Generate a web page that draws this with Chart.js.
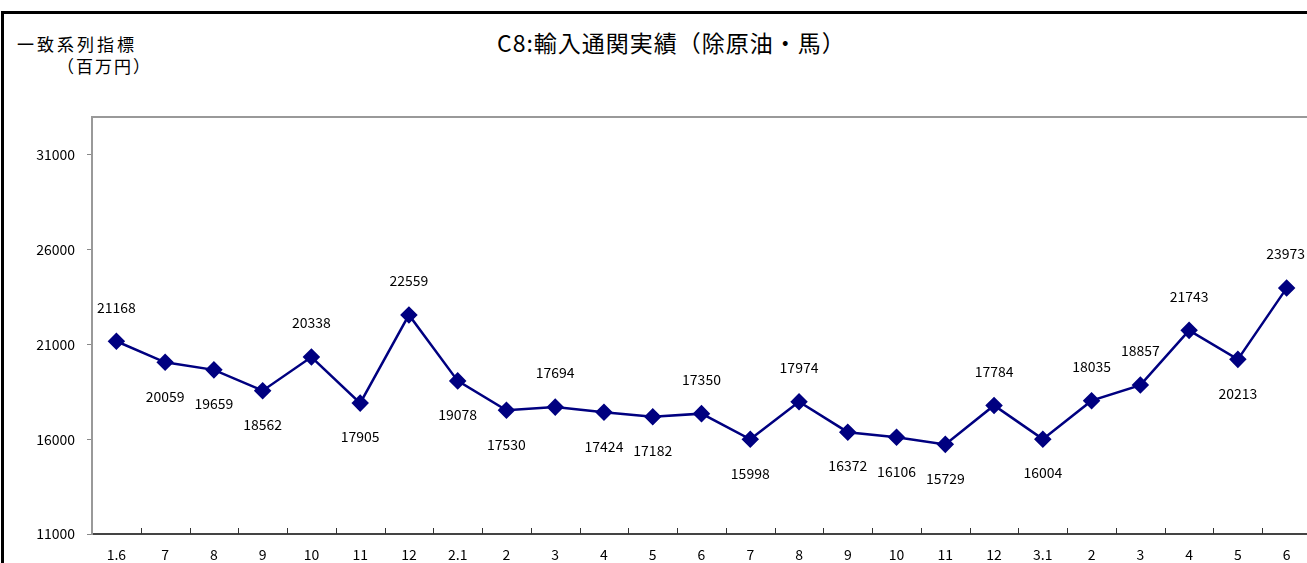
<!DOCTYPE html>
<html>
<head>
<meta charset="utf-8">
<script src="https://cdn.jsdelivr.net/npm/chart.js@4.4.1/dist/chart.umd.min.js"></script>
<style>
    html, body { margin: 0; padding: 0; background: #fff; }
    body { width: 1307px; height: 563px; overflow: hidden; position: relative; font-family: "Noto Sans CJK JP", sans-serif; }
    #frame { position: absolute; left: 1px; top: 11px; width: 1400px; height: 700px; border: 3px solid #000; }
    .txt { position: absolute; white-space: nowrap; line-height: 1; color: #000; }
    #title { left: 497px; top: 31px; font-size: 23px; letter-spacing: 1px; }
    #ylab1 { left: 17px; top: 35px; font-size: 17px; letter-spacing: 3px; }
    #ylab2 { left: 57px; top: 57px; font-size: 17px; letter-spacing: 2px; }
    #wrap { position: absolute; left: 0; top: 0; width: 1330px; height: 563px; }
</style>
</head>
<body>
<div id="frame"></div>
<div class="txt" id="title">C8:輸入通関実績（除原油・馬）</div>
<div class="txt" id="ylab1">一致系列指標</div>
<div class="txt" id="ylab2">（百万円）</div>
<div id="wrap"><canvas id="c8Chart" width="1330" height="563"></canvas></div>

<script>
// 月ラベル（1.6 = 令和1年6月 ...）
const MONTHS = ['1.6', '7', '8', '9', '10', '11', '12',
                '2.1', '2', '3', '4', '5', '6', '7', '8', '9', '10', '11', '12',
                '3.1', '2', '3', '4', '5', '6'];

// 輸入通関実績（除原油・馬）、百万円
const IMPORTS = [21168, 20059, 19659, 18562, 20338, 17905, 22559,
                 19078, 17530, 17694, 17424, 17182, 17350, 15998, 17974, 16372, 16106, 15729, 17784,
                 16004, 18035, 18857, 21743, 20213, 23973];

// 値ラベルを点の上(1)か下(-1)に置く
const LABEL_SIDE = [1, -1, -1, -1, 1, -1, 1,
                    -1, -1, 1, -1, -1, 1, -1, 1, -1, -1, -1, 1,
                    -1, 1, 1, 1, -1, 1];

const Y_TICKS = [11000, 16000, 21000, 26000, 31000];
const Y_MIN = 11000;
const Y_MAX = 33000;

const NAVY = '#000080';
const FONT = '"Noto Sans CJK JP", "Liberation Sans", sans-serif';

// 値ラベル、x軸の内向き目盛り、プロット枠
const decorations = {
    id: 'decorations',
    afterDatasetsDraw(chart) {
        const { ctx } = chart;
        const meta = chart.getDatasetMeta(0);
        ctx.save();
        ctx.font = '14px ' + FONT;
        ctx.fillStyle = '#000';
        ctx.textAlign = 'center';
        ctx.textBaseline = 'middle';
        meta.data.forEach((pt, i) => {
            // keep the last label inside the window, as in the original
            const w = ctx.measureText(String(IMPORTS[i])).width;
            const lx = Math.min(pt.x, 1307 - w / 2 - 2);
            ctx.fillText(String(IMPORTS[i]), lx, pt.y - LABEL_SIDE[i] * 34);
        });
        ctx.restore();
    },
    afterDraw(chart) {
        const { ctx, chartArea, scales } = chart;
        const x = scales.x;
        ctx.save();
        // top border of plot area
        ctx.strokeStyle = '#999';
        ctx.lineWidth = 2;
        ctx.beginPath();
        ctx.moveTo(chartArea.left, chartArea.top);
        ctx.lineTo(chartArea.right, chartArea.top);
        ctx.stroke();
        // tick marks between categories, pointing up into the plot
        ctx.strokeStyle = '#333';
        ctx.lineWidth = 1;
        for (let i = 0; i < MONTHS.length - 1; i++) {
            const px = Math.round((x.getPixelForTick(i) + x.getPixelForTick(i + 1)) / 2) + 0.5;
            ctx.beginPath();
            ctx.moveTo(px, chartArea.bottom);
            ctx.lineTo(px, chartArea.bottom - 6);
            ctx.stroke();
        }
        ctx.restore();
    }
};

new Chart(document.getElementById('c8Chart'), {
    type: 'line',
    data: {
        labels: MONTHS,
        datasets: [{
            data: IMPORTS,
            borderColor: NAVY,
            backgroundColor: NAVY,
            borderWidth: 2.5,
            pointStyle: 'rectRot',
            pointRadius: 7,
            pointHoverRadius: 7,
            tension: 0
        }]
    },
    options: {
        responsive: false,
        animation: false,
        layout: { padding: { top: 117, left: 0, right: 19, bottom: 0 } },
        plugins: {
            legend: { display: false },
            tooltip: { enabled: false }
        },
        scales: {
            x: {
                offset: true,
                grid: { display: false },
                border: { color: '#444', width: 2 },
                ticks: {
                    color: '#000',
                    padding: 4,
                    maxRotation: 0,
                    autoSkip: false,
                    font: { family: FONT, size: 14 }
                },
                afterFit: s => { s.height = 29; }
            },
            y: {
                min: Y_MIN,
                max: Y_MAX,
                grid: { drawOnChartArea: false, drawTicks: true, tickLength: 5, color: '#888' },
                border: { color: '#999', width: 2 },
                ticks: {
                    color: '#000',
                    padding: 12,
                    stepSize: 5000,
                    font: { family: FONT, size: 14 },
                    callback: v => String(v)
                },
                afterBuildTicks: s => { s.ticks = Y_TICKS.map(v => ({ value: v })); },
                afterFit: s => { s.width = 92; }
            }
        }
    },
    plugins: [decorations]
});
</script>
</body>
</html>
